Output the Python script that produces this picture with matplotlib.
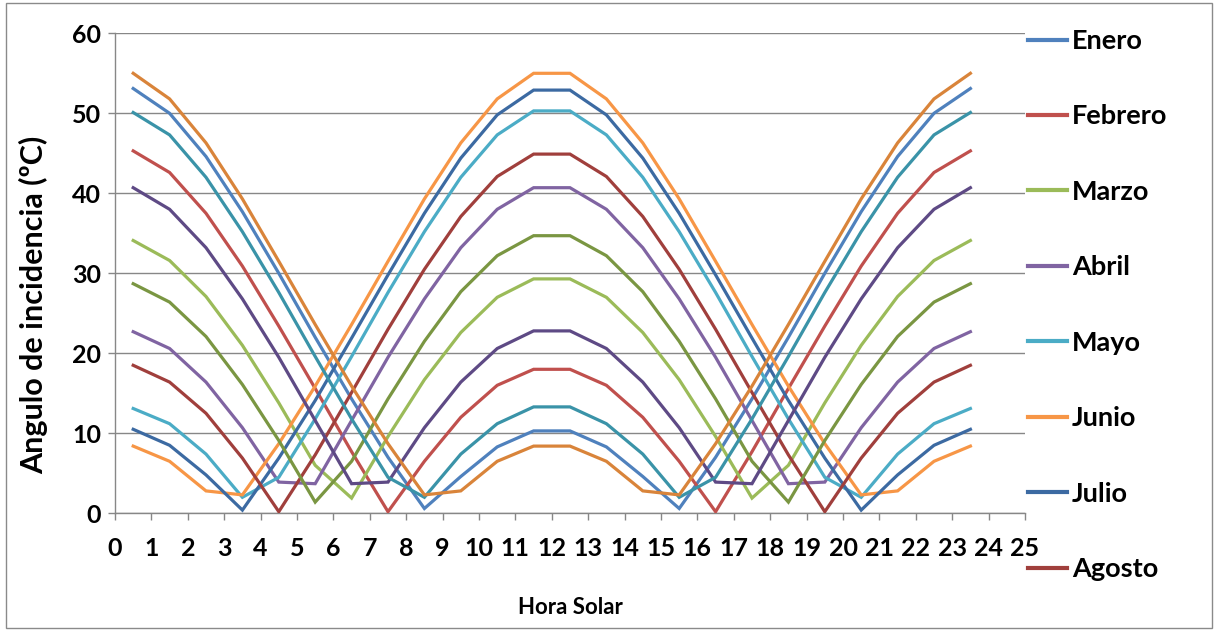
import matplotlib
matplotlib.use("Agg")
import matplotlib.pyplot as plt
from matplotlib.patches import Rectangle

# ---------------- data ----------------
hours = [0.5, 1.5, 2.5, 3.5, 4.5, 5.5, 6.5, 7.5, 8.5, 9.5, 10.5, 11.5,
         12.5, 13.5, 14.5, 15.5, 16.5, 17.5, 18.5, 19.5, 20.5, 21.5, 22.5, 23.5]

x_ticks = [0, 1, 2, 3, 4, 5, 6, 7, 8, 9, 10, 11, 12, 13, 14, 15, 16, 17, 18,
           19, 20, 21, 22, 23, 24, 25]
x_tick_labels = ["0", "1", "2", "3", "4", "5", "6", "7", "8", "9", "10", "11",
                 "12", "13", "14", "15", "16", "17", "18", "19", "20", "21",
                 "22", "23", "24", "25"]
y_ticks = [0, 10, 20, 30, 40, 50, 60]

months = ["Enero", "Febrero", "Marzo", "Abril", "Mayo", "Junio", "Julio",
          "Agosto", "Septiembre", "Octubre", "Noviembre", "Diciembre"]

enero = [53.1, 50.0, 44.6, 37.7, 30.0, 22.0, 14.3, 7.0, 0.6, 4.6, 8.3, 10.3,
         10.3, 8.3, 4.6, 0.6, 7.0, 14.3, 22.0, 30.0, 37.7, 44.6, 50.0, 53.1]
febrero = [45.3, 42.6, 37.5, 30.9, 23.4, 15.6, 7.7, 0.2, 6.5, 12.0, 16.0, 18.0,
           18.0, 16.0, 12.0, 6.5, 0.2, 7.7, 15.6, 23.4, 30.9, 37.5, 42.6, 45.3]
marzo = [34.1, 31.6, 27.1, 21.0, 13.8, 6.0, 1.9, 9.6, 16.7, 22.6, 27.0, 29.3,
         29.3, 27.0, 22.6, 16.7, 9.6, 1.9, 6.0, 13.8, 21.0, 27.1, 31.6, 34.1]
abril = [22.7, 20.6, 16.4, 10.7, 3.9, 3.7, 11.6, 19.5, 26.8, 33.2, 38.0, 40.7,
         40.7, 38.0, 33.2, 26.8, 19.5, 11.6, 3.7, 3.9, 10.7, 16.4, 20.6, 22.7]
mayo = [13.1, 11.2, 7.4, 2.0, 4.5, 11.8, 19.6, 27.6, 35.2, 42.0, 47.3, 50.3,
        50.3, 47.3, 42.0, 35.2, 27.6, 19.6, 11.8, 4.5, 2.0, 7.4, 11.2, 13.1]
junio = [8.4, 6.5, 2.8, 2.3, 8.7, 15.9, 23.6, 31.5, 39.3, 46.3, 51.8, 55.0,
         55.0, 51.8, 46.3, 39.3, 31.5, 23.6, 15.9, 8.7, 2.3, 2.8, 6.5, 8.4]
julio = [10.5, 8.5, 4.8, 0.4, 6.9, 14.1, 21.9, 29.8, 37.5, 44.4, 49.8, 52.9,
         52.9, 49.8, 44.4, 37.5, 29.8, 21.9, 14.1, 6.9, 0.4, 4.8, 8.5, 10.5]
agosto = [18.5, 16.4, 12.5, 6.9, 0.2, 7.3, 15.1, 23.0, 30.5, 37.1, 42.1, 44.9,
          44.9, 42.1, 37.1, 30.5, 23.0, 15.1, 7.3, 0.2, 6.9, 12.5, 16.4, 18.5]
septiembre = [28.7, 26.4, 22.1, 16.1, 9.1, 1.4, 6.5, 14.3, 21.5, 27.7, 32.2, 34.7,
              34.7, 32.2, 27.7, 21.5, 14.3, 6.5, 1.4, 9.1, 16.1, 22.1, 26.4, 28.7]
octubre = [40.7, 38.0, 33.2, 26.8, 19.5, 11.6, 3.7, 3.9, 10.7, 16.4, 20.6, 22.8,
           22.8, 20.6, 16.4, 10.7, 3.9, 3.7, 11.6, 19.5, 26.8, 33.2, 38.0, 40.7]
noviembre = [50.1, 47.3, 42.0, 35.2, 27.6, 19.6, 11.8, 4.5, 2.0, 7.4, 11.2, 13.3,
             13.3, 11.2, 7.4, 2.0, 4.5, 11.8, 19.6, 27.6, 35.2, 42.0, 47.3, 50.1]
diciembre = [55.0, 51.8, 46.3, 39.3, 31.5, 23.6, 15.9, 8.7, 2.3, 2.8, 6.5, 8.4,
             8.4, 6.5, 2.8, 2.3, 8.7, 15.9, 23.6, 31.5, 39.3, 46.3, 51.8, 55.0]

series = [enero, febrero, marzo, abril, mayo, junio, julio, agosto,
          septiembre, octubre, noviembre, diciembre]

colors = ["#4F81BD", "#C0504D", "#9BBB59", "#8064A2", "#4BACC6", "#F79646",
          "#3C6AA2", "#A03F3C", "#7A9642", "#5E4A85", "#3A93A8", "#D9843A"]

# only the first 8 legend entries fit in the picture (the rest are cut off)
n_legend_visible = 8

# ---------------- figure ----------------
plt.rcParams["font.family"] = ["Lato", "DejaVu Sans"]
plt.rcParams["font.weight"] = "bold"

W, H = 1215, 631
fig = plt.figure(figsize=(W / 100, H / 100), dpi=100)
fig.patch.set_facecolor("white")

left, right, top, bottom = 115, 1025, 33.3, 513.3
ax = fig.add_axes([left / W, 1 - bottom / H, (right - left) / W, (bottom - top) / H])

grid_c = "#878787"
handles = []
for i, (vals, name) in enumerate(zip(series, months)):
    h, = ax.plot(hours, vals, color=colors[i], lw=2.3, label=name,
                 solid_joinstyle="miter", zorder=3)
    handles.append(h)

ax.set_xlim(0, 25)
ax.set_ylim(0, 60)
ax.set_xticks(x_ticks)
ax.set_xticklabels(x_tick_labels)
ax.set_yticks(y_ticks)
ax.yaxis.grid(True, color=grid_c, lw=1.0)
ax.set_axisbelow(True)

for s in ["top", "right"]:
    ax.spines[s].set_visible(False)
for s in ["left", "bottom"]:
    ax.spines[s].set_color(grid_c)
    ax.spines[s].set_linewidth(1.0)

ax.tick_params(axis="x", direction="out", length=5, width=1.0, color=grid_c,
               labelsize=18, pad=12)
ax.tick_params(axis="y", direction="out", length=5, width=1.0, color=grid_c,
               labelsize=18, pad=5)
for lab in ax.get_xticklabels() + ax.get_yticklabels():
    lab.set_fontweight("bold")

ax.set_ylabel("Angulo de incidencia (ºC)", fontsize=22, fontweight="bold")
ax.yaxis.set_label_coords((48 - left) / (right - left), (bottom - 305) / (bottom - top))
ax.set_xlabel("Hora Solar", fontsize=16, fontweight="bold")
ax.xaxis.set_label_coords(0.5, (bottom - 597) / (bottom - top))

leg = ax.legend(handles[:n_legend_visible], months[:n_legend_visible],
                loc="upper left", bbox_to_anchor=(1028 / W, 1 - 29 / H),
                bbox_transform=fig.transFigure, frameon=False, fontsize=19.5,
                handlelength=1.45, handletextpad=0.18, labelspacing=1.9,
                borderpad=0, borderaxespad=0)
for t in leg.get_texts():
    t.set_fontweight("bold")
for l in leg.get_lines():
    l.set_linewidth(3)

fig.patches.append(Rectangle((6 / W, 3 / H), 1206 / W, 625 / H, transform=fig.transFigure,
                             fill=False, edgecolor="#8a8a8a", lw=1.0))

fig.savefig("out.png", dpi=100, facecolor="white")
